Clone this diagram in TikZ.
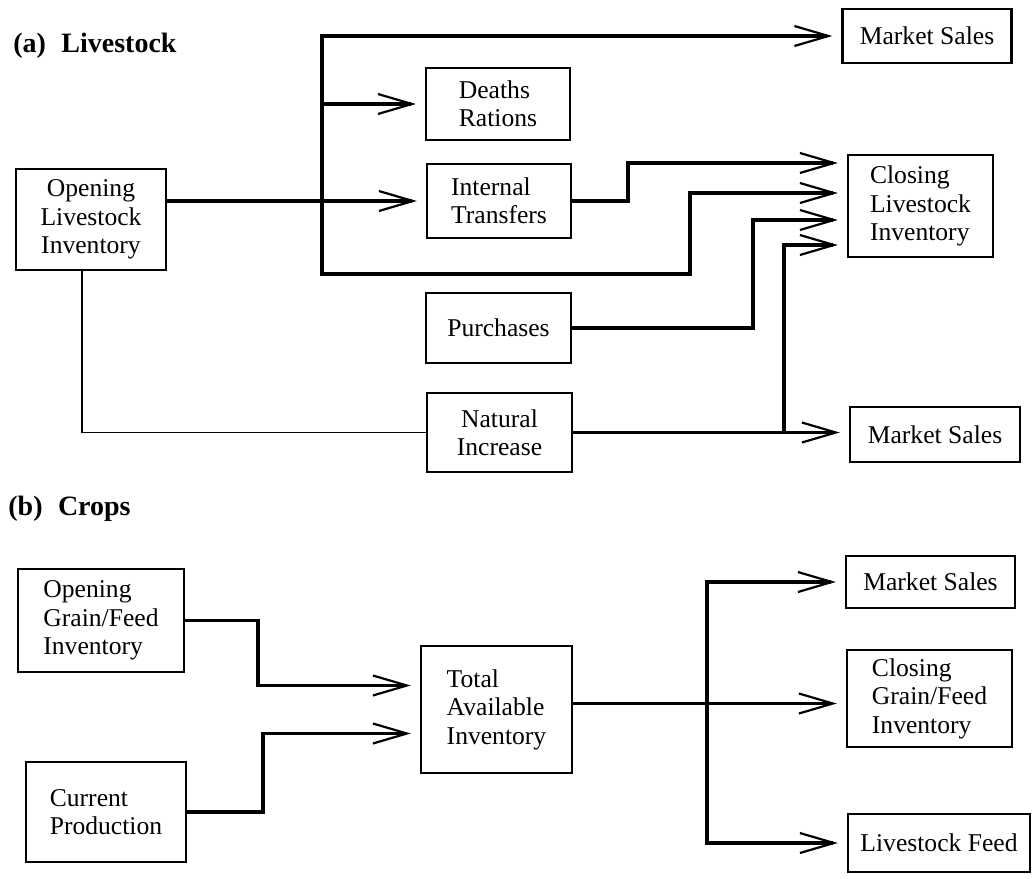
\documentclass[tikz,border=0pt]{standalone}
\usepackage{fontspec}
\setmainfont{Liberation Serif}
\usetikzlibrary{arrows.meta,calc}

\tikzset{
  box/.style={draw, line width=1.2pt, inner sep=0pt, align=center,
    font=\fontsize{12.8}{14.2}\selectfont},
  flow/.style={line width=1.8pt, shorten >=4.5pt,
    -{Straight Barb[length=17pt,width=10pt,line width=1.1pt]}},
  link/.style={line width=0.8pt},
  part/.style={anchor=west, inner sep=0pt, font=\fontsize{14}{16}\selectfont\bfseries}
}

\begin{document}
\begin{tikzpicture}[x=0.5pt,y=-0.5pt]
  \useasboundingbox (0,0) rectangle (1032,878);
  % Livestock part of the Figure
  \node[part]                                           (lbla)    at (13,46)      {(a)\hspace{0.55em}Livestock};
  \node[box,minimum width=84.5pt,minimum height=27pt]   (mstop)   at (927,36)     {Market Sales};
  \node[box,minimum width=72pt,minimum height=36pt,align=left]   (deaths)  at (498,104) {Deaths\\Rations};
  \node[box,minimum width=72pt,minimum height=37pt,align=left]   (intern)  at (499,201) {Internal\\Transfers};
  \node[box,minimum width=75pt,minimum height=50.5pt]   (openls)  at (91,219.5)   {Opening\\Livestock\\Inventory};
  \node[box,minimum width=72.5pt,minimum height=51pt,align=left] (closels) at (920.5,206) {Closing\\Livestock\\Inventory};
  \node[box,minimum width=72.5pt,minimum height=35pt]   (purch)   at (498.5,328)  {Purchases};
  \node[box,minimum width=72.5pt,minimum height=39.5pt] (natinc)  at (499.5,432.5) {Natural\\Increase};
  \node[box,minimum width=85pt,minimum height=27.5pt]   (msbot)   at (935,434.5)  {Market Sales};
  \coordinate (fork) at (322,201);
  \coordinate (cin1) at ($(closels.west)+(0,-43)$);
  \coordinate (cin2) at ($(closels.west)+(0,-13)$);
  \coordinate (cin3) at ($(closels.west)+(0,14)$);
  \coordinate (cin4) at ($(closels.west)+(0,39)$);
  \draw[flow] (openls.east |- intern.west) -- (intern.west);
  \draw[flow] (fork) |- (mstop.west);
  \draw[flow] (fork |- deaths.west) -- (deaths.west);
  \draw[flow] (fork) -- ++(0,73) -- ++(368,0) |- (cin2);
  \draw[flow] (intern.east) -- ++(56,0) |- (cin1);
  \draw[flow] (purch.east) -- ++(181,0) |- (cin3);
  \draw[flow] (natinc.east) -- (natinc.east -| msbot.west);
  \draw[flow] ($(natinc.east)+(211,0)$) |- (cin4);
  \draw[link] ([xshift=-4.5pt]openls.south) |- (natinc.west);
  % Crops part of the Figure
  \node[part]                                           (lblb)    at (8,509)      {(b)\hspace{0.55em}Crops};
  \node[box,minimum width=83pt,minimum height=51.5pt,align=left] (opengf)  at (101,620.5) {Opening\\Grain/Feed\\Inventory};
  \node[box,minimum width=80pt,minimum height=50pt,align=left]   (curprod) at (106,812)   {Current\\Production};
  \node[box,minimum width=75.5pt,minimum height=63.5pt,align=left] (total) at (496.5,709.5) {Total\\Available\\Inventory};
  \node[box,minimum width=84.5pt,minimum height=26pt]   (msc)     at (930.5,582)  {Market Sales};
  \node[box,minimum width=82.5pt,minimum height=48.5pt,align=left] (closegf) at (929.5,698.5) {Closing\\Grain/Feed\\Inventory};
  \node[box,minimum width=91pt,minimum height=29pt]     (feed)    at (939,843)    {Livestock Feed};
  \coordinate (tin1) at ($(total.west)+(0,-24)$);
  \coordinate (tin2) at ($(total.west)+(0,24)$);
  \coordinate (tout) at ($(total.east)+(0,-6)$);
  \coordinate (csplit) at ($(tout)+(134,0)$);
  \draw[flow] (opengf.east) -- ++(73,0) |- (tin1);
  \draw[flow] (curprod.east) -- ++(76,0) |- (tin2);
  \draw[flow] (tout) -- (tout -| closegf.west);
  \draw[flow] (csplit) |- (msc.west);
  \draw[flow] (csplit) |- (feed.west);
\end{tikzpicture}
\end{document}
